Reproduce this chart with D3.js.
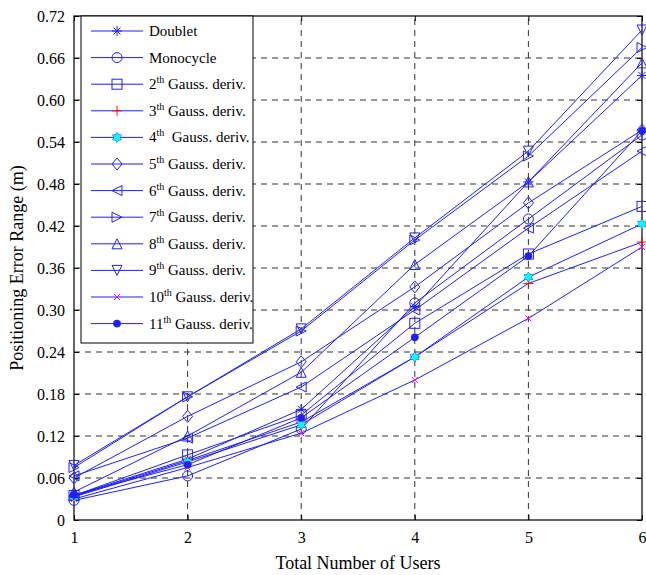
<!DOCTYPE html>
<html>
<head>
<meta charset="utf-8">
<script src="https://cdn.jsdelivr.net/npm/d3@7"></script>
<style>
body { margin: 0; background: #fff; }
</style>
</head>
<body>
<div class="chart"></div>
<script>
const width = 646;
const height = 575;

// data
const users = [1, 2, 3, 4, 5, 6];
const yTicks = [0, 0.06, 0.12, 0.18, 0.24, 0.30, 0.36, 0.42, 0.48, 0.54, 0.60, 0.66, 0.72];
const yTickLabels = ['0', '0.06', '0.12', '0.18', '0.24', '0.30', '0.36', '0.42', '0.48', '0.54', '0.60', '0.66', '0.72'];

const doublet   = [0.035, 0.087, 0.158, 0.305, 0.483, 0.635];
const monocycle = [0.028, 0.063, 0.130, 0.310, 0.430, 0.550];
const gauss2    = [0.035, 0.093, 0.150, 0.281, 0.380, 0.448];
const gauss3    = [0.034, 0.085, 0.140, 0.233, 0.338, 0.397];
const gauss4    = [0.033, 0.083, 0.136, 0.233, 0.347, 0.423];
const gauss5    = [0.060, 0.148, 0.226, 0.333, 0.453, 0.557];
const gauss6    = [0.063, 0.117, 0.190, 0.300, 0.417, 0.527];
const gauss7    = [0.075, 0.176, 0.270, 0.400, 0.520, 0.675];
const gauss8    = [0.040, 0.120, 0.211, 0.365, 0.483, 0.653];
const gauss9    = [0.078, 0.176, 0.273, 0.403, 0.527, 0.700];
const gauss10   = [0.030, 0.075, 0.124, 0.200, 0.288, 0.390];
const gauss11   = [0.036, 0.079, 0.146, 0.261, 0.377, 0.556];

const series = [
  {num: null, name: 'Doublet', values: doublet, marker: 'star'},
  {num: null, name: 'Monocycle', values: monocycle, marker: 'circle'},
  {num: '2', name: ' Gauss. deriv.', values: gauss2, marker: 'square'},
  {num: '3', name: ' Gauss. deriv.', values: gauss3, marker: 'plus'},
  {num: '4', name: '\u00a0 Gauss. deriv.', values: gauss4, marker: 'hexagram'},
  {num: '5', name: ' Gauss. deriv.', values: gauss5, marker: 'diamond'},
  {num: '6', name: ' Gauss. deriv.', values: gauss6, marker: 'left'},
  {num: '7', name: ' Gauss. deriv.', values: gauss7, marker: 'right'},
  {num: '8', name: ' Gauss. deriv.', values: gauss8, marker: 'up'},
  {num: '9', name: ' Gauss. deriv.', values: gauss9, marker: 'down'},
  {num: '10', name: ' Gauss. deriv.', values: gauss10, marker: 'cross'},
  {num: '11', name: ' Gauss. deriv.', values: gauss11, marker: 'dot'}
];

const margin = {top: 16, right: 4, bottom: 55, left: 74};
const lineColor = '#1f1fff';

const svg = d3.select('.chart')
  .append('svg')
  .attr('width', width)
  .attr('height', height);

const x = d3.scaleLinear().domain([1, 6]).range([margin.left, width - margin.right]);
const y = d3.scaleLinear().domain([0, 0.72]).range([height - margin.bottom, margin.top]);

// grid
svg.append('g').selectAll('line')
  .data(users.slice(1, -1))
  .enter().append('line')
  .attr('x1', d => x(d)).attr('x2', d => x(d))
  .attr('y1', y(0)).attr('y2', y(0.72))
  .attr('stroke', '#333').attr('stroke-dasharray', '6,5');
svg.append('g').selectAll('line')
  .data(yTicks.slice(1, -1))
  .enter().append('line')
  .attr('y1', d => y(d)).attr('y2', d => y(d))
  .attr('x1', x(1)).attr('x2', x(6))
  .attr('stroke', '#333').attr('stroke-dasharray', '6,5');

// axes, ticks inside
const xAxis = d3.axisBottom(x).tickValues(users).tickFormat(d3.format('d')).tickSizeInner(-5).tickSizeOuter(0).tickPadding(12);
const yAxis = d3.axisLeft(y).tickValues(yTicks).tickFormat((d, i) => yTickLabels[i]).tickSizeInner(-5).tickSizeOuter(0).tickPadding(9);

const gx = svg.append('g').attr('transform', `translate(0,${y(0)})`).call(xAxis);
const gy = svg.append('g').attr('transform', `translate(${x(1)},0)`).call(yAxis);
svg.append('g').attr('transform', `translate(0,${y(0.72)})`)
  .call(d3.axisTop(x).tickValues(users).tickSizeInner(-5).tickSizeOuter(0).tickFormat(''));
svg.append('g').attr('transform', `translate(${x(6)},0)`)
  .call(d3.axisRight(y).tickValues(yTicks).tickSizeInner(-5).tickSizeOuter(0).tickFormat(''));
svg.selectAll('.domain').remove();
svg.selectAll('.tick line').attr('stroke', '#000');
[gx, gy].forEach(g => {
  g.attr('font-size', 16);
  g.selectAll('text').attr('fill', '#000');
});

svg.append('rect')
  .attr('x', x(1)).attr('y', y(0.72))
  .attr('width', x(6) - x(1)).attr('height', y(0) - y(0.72))
  .attr('fill', 'none').attr('stroke', '#000').attr('stroke-width', 1.2);

// marker drawing
function drawMarker(g, type) {
  const s = 5;
  if (type === 'star') {
    g.append('path').attr('d', `M${-s},0H${s}M0,${-s}V${s}M${-s*0.7},${-s*0.7}L${s*0.7},${s*0.7}M${-s*0.7},${s*0.7}L${s*0.7},${-s*0.7}`)
      .attr('stroke', lineColor).attr('fill', 'none');
  } else if (type === 'circle') {
    g.append('circle').attr('r', s).attr('fill', 'none').attr('stroke', lineColor);
  } else if (type === 'square') {
    g.append('rect').attr('x', -s).attr('y', -s).attr('width', 2*s).attr('height', 2*s)
      .attr('fill', 'none').attr('stroke', lineColor);
  } else if (type === 'plus') {
    g.append('path').attr('d', `M${-s},0H${s}M0,${-s}V${s}`).attr('stroke', '#ff0000').attr('fill', 'none');
  } else if (type === 'hexagram') {
    const r = 5;
    const t1 = d3.range(3).map(i => { const a = -Math.PI/2 + i*2*Math.PI/3; return [r*Math.cos(a), r*Math.sin(a)]; });
    const t2 = d3.range(3).map(i => { const a = Math.PI/2 + i*2*Math.PI/3; return [r*Math.cos(a), r*Math.sin(a)]; });
    [t1, t2].forEach(t => g.append('path').attr('d', 'M' + t.join('L') + 'Z')
      .attr('fill', '#00ffff').attr('stroke', lineColor).attr('stroke-width', 0.8));
    [t1, t2].forEach(t => g.append('path').attr('d', 'M' + t.join('L') + 'Z')
      .attr('fill', '#00ffff').attr('stroke', 'none'));
  } else if (type === 'diamond') {
    g.append('path').attr('d', `M0,${-s-1}L${s},0L0,${s+1}L${-s},0Z`).attr('fill', 'none').attr('stroke', lineColor);
  } else if (type === 'left') {
    g.append('path').attr('d', `M${-s},0L${s},${-s}L${s},${s}Z`).attr('fill', 'none').attr('stroke', lineColor);
  } else if (type === 'right') {
    g.append('path').attr('d', `M${s},0L${-s},${-s}L${-s},${s}Z`).attr('fill', 'none').attr('stroke', lineColor);
  } else if (type === 'up') {
    g.append('path').attr('d', `M0,${-s}L${s},${s}L${-s},${s}Z`).attr('fill', 'none').attr('stroke', lineColor);
  } else if (type === 'down') {
    g.append('path').attr('d', `M0,${s}L${s},${-s}L${-s},${-s}Z`).attr('fill', 'none').attr('stroke', lineColor);
  } else if (type === 'cross') {
    const c = 3;
    g.append('path').attr('d', `M${-c},${-c}L${c},${c}M${-c},${c}L${c},${-c}`).attr('stroke', '#ff00ff').attr('fill', 'none');
  } else if (type === 'dot') {
    g.append('circle').attr('r', 3.5).attr('fill', lineColor).attr('stroke', lineColor);
  }
}

const line = d3.line().x((d, i) => x(users[i])).y(d => y(d));

const plot = svg.append('g');
series.forEach(s => {
  plot.append('path')
    .attr('d', line(s.values))
    .attr('fill', 'none')
    .attr('stroke', lineColor)
    .attr('stroke-width', 1);
});
series.forEach(s => {
  s.values.forEach((v, i) => {
    const g = plot.append('g').attr('transform', `translate(${x(users[i])},${y(v)})`);
    drawMarker(g, s.marker);
  });
});

// legend
const legend = svg.append('g').attr('transform', 'translate(81,16)');
legend.append('rect')
  .attr('width', 172).attr('height', 327)
  .attr('fill', '#fff').attr('stroke', '#000');

series.forEach((s, i) => {
  const ly = 15 + i * 26.6;
  legend.append('line')
    .attr('x1', 10).attr('x2', 62).attr('y1', ly).attr('y2', ly)
    .attr('stroke', lineColor).attr('stroke-width', 1);
  drawMarker(legend.append('g').attr('transform', `translate(36,${ly})`), s.marker);
  const t = legend.append('text')
    .attr('x', 68).attr('y', ly + 5)
    .attr('font-size', 15).attr('fill', '#000')
    .attr('xml:space', 'preserve');
  if (s.num) {
    t.append('tspan').text(s.num);
    t.append('tspan').text('th').attr('font-size', 10).attr('dy', -6);
    t.append('tspan').text(s.name).attr('dy', 6);
  } else {
    t.text(s.name);
  }
});

// axis labels
svg.append('text')
  .attr('x', (x(1) + x(6)) / 2).attr('y', 569)
  .attr('text-anchor', 'middle').attr('font-size', 18)
  .text('Total Number of Users');
svg.append('text')
  .attr('transform', `translate(23,${(y(0) + y(0.72)) / 2}) rotate(-90)`)
  .attr('text-anchor', 'middle').attr('font-size', 18)
  .text('Positioning Error Range (m)');

// serif everywhere, set inline so it wins over the axis defaults
svg.selectAll('text').style('font-family', "'Liberation Serif'");
</script>
</body>
</html>
